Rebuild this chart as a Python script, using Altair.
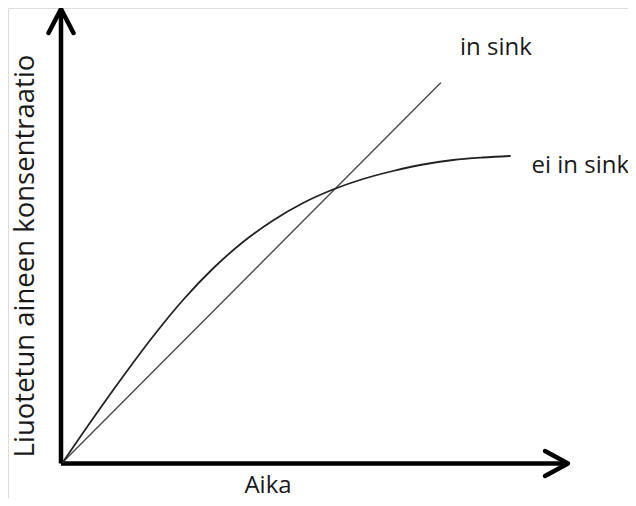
import altair as alt
import pandas as pd

# ---- data (arbitrary units: time t, concentration c) ----
sink_t = [0.0, 7.55]
sink_c = [0.0, 7.58]

nosink_t = [0.0, 0.6, 1.2, 1.8, 2.4, 3.0, 3.6, 4.2, 4.8, 5.4, 6.0, 6.6, 7.2, 7.8, 8.4, 8.94]
nosink_c = [0.0, 0.87, 1.71, 2.51, 3.24, 3.87, 4.40, 4.83, 5.18, 5.45, 5.66, 5.82, 5.95, 6.04, 6.09, 6.12]

# axis extents (drawn as arrows)
x_axis_t = [-0.04, 10.0]
x_axis_c = [-0.03, -0.03]
y_axis_t = [-0.04, -0.04]
y_axis_c = [-0.03, 8.98]
x_head_t = [9.64, 10.1, 9.64]
x_head_c = [0.22, -0.03, -0.28]
y_head_t = [-0.29, -0.04, 0.21]
y_head_c = [8.58, 9.06, 8.58]

labels = ["in sink", "ei in sink"]
label_t = [7.94, 9.37]
label_c = [8.14, 5.78]

x_title = "Aika"
y_title = "Liuotetun aineen konsentraatio"

FONT = "Open Sans"
XDOM = [-1.1, 11.3]
YDOM = [-0.72, 9.08]

xs = alt.Scale(domain=XDOM, nice=False, zero=False)
ys = alt.Scale(domain=YDOM, nice=False, zero=False)


def path_df(ts, cs, name):
    return pd.DataFrame({"t": ts, "c": cs, "order": list(range(len(ts))), "name": name})


def line_layer(df, color, width, interp="linear", cap="round"):
    return alt.Chart(df).mark_line(
        color=color, strokeWidth=width, interpolate=interp, strokeCap=cap, strokeJoin="round", clip=False
    ).encode(
        x=alt.X("t:Q", scale=xs, axis=None),
        y=alt.Y("c:Q", scale=ys, axis=None),
        order="order:Q",
    )


axes = alt.layer(
    line_layer(path_df(x_axis_t, x_axis_c, "xa"), "#000000", 4.5, cap="butt"),
    line_layer(path_df(y_axis_t, y_axis_c, "ya"), "#000000", 4.5, cap="butt"),
    line_layer(path_df(x_head_t, x_head_c, "xh"), "#000000", 4.5),
    line_layer(path_df(y_head_t, y_head_c, "yh"), "#000000", 4.5),
)

sink_line = line_layer(path_df(sink_t, sink_c, "in sink"), "#4a4a4a", 1.4)
nosink_line = line_layer(path_df(nosink_t, nosink_c, "ei in sink"), "#222222", 1.8, interp="monotone")

lab_df = pd.DataFrame({"t": label_t, "c": label_c, "label": labels})
label_layer = alt.Chart(lab_df).mark_text(
    font=FONT, fontSize=24, align="left", baseline="alphabetic", color="#1a1a1a"
).encode(
    x=alt.X("t:Q", scale=xs, axis=None),
    y=alt.Y("c:Q", scale=ys, axis=None),
    text="label:N",
)

xt_df = pd.DataFrame({"t": [4.1], "c": [-0.62], "label": [x_title]})
xt_layer = alt.Chart(xt_df).mark_text(
    font=FONT, fontSize=24, align="center", baseline="alphabetic", color="#1a1a1a"
).encode(
    x=alt.X("t:Q", scale=xs, axis=None),
    y=alt.Y("c:Q", scale=ys, axis=None),
    text="label:N",
)

yt_df = pd.DataFrame({"t": [-0.58], "c": [4.12], "label": [y_title]})
yt_layer = alt.Chart(yt_df).mark_text(
    font=FONT, fontSize=27.5, align="center", baseline="alphabetic", angle=270, color="#1a1a1a"
).encode(
    x=alt.X("t:Q", scale=xs, axis=None),
    y=alt.Y("c:Q", scale=ys, axis=None),
    text="label:N",
)

chart = alt.layer(
    axes, sink_line, nosink_line, label_layer, xt_layer, yt_layer
).properties(
    width=620, height=490, padding=0, autosize=alt.AutoSizeParams(type="none")
).configure_view(stroke=None).configure(background="white")

chart.save("out.html", embed_options={"renderer": "svg", "actions": False})
